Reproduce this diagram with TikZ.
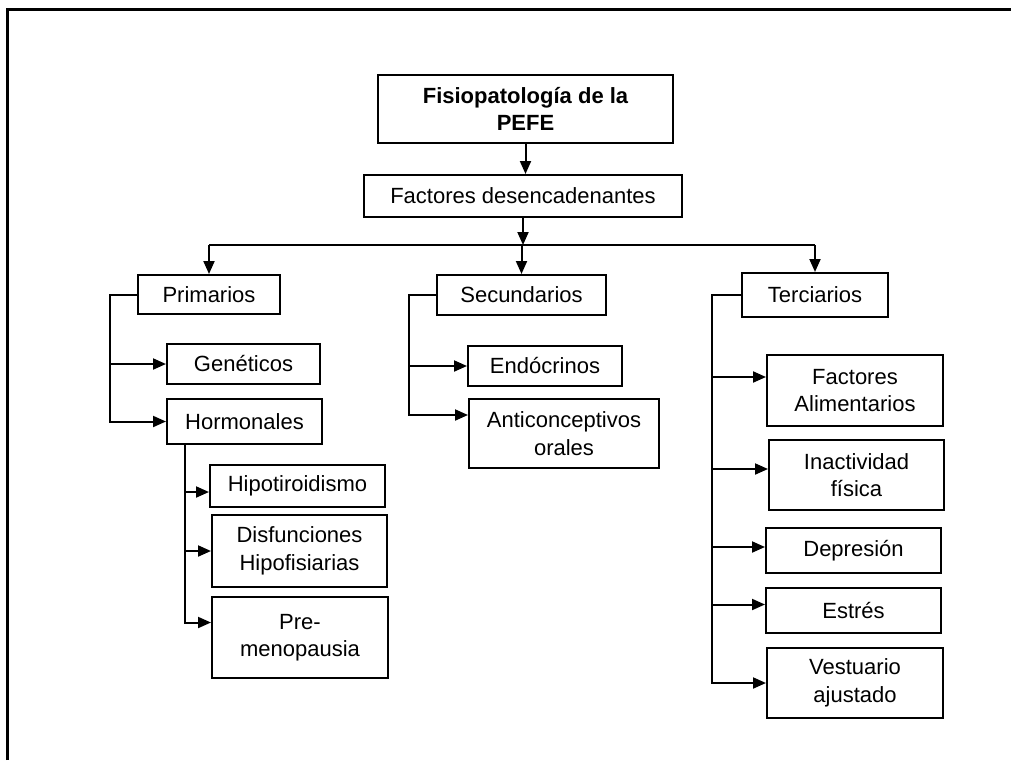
\documentclass[tikz,border=0pt]{standalone}
\usepackage{fontspec}
\setmainfont{Liberation Sans}
\usetikzlibrary{arrows.meta}
\begin{document}
\begin{tikzpicture}[x=0.5pt,y=-0.5pt,
  box/.style={draw, line width=1pt, inner sep=0pt, align=center,
    font=\fontsize{11}{13.75}\selectfont},
  sz/.style n args={2}{minimum width=#1*0.5pt, minimum height=#2*0.5pt},
  ln/.style={line width=1pt},
  arr/.style={line width=1pt, -{Triangle[length=6.5pt,width=5.5pt]}},
  frame/.style={line width=1.5pt}]
\useasboundingbox (0,0) rectangle (1011,760);
\coordinate (f1) at (7,760);
\coordinate (f2) at (7,9);
\coordinate (f3) at (1011,9);
\draw[frame] (f1) -- (f2) -- (f3);

\node[box, sz={295}{68}, font=\fontsize{11}{13.75}\selectfont\bfseries] (title) at (525.5,109) {Fisiopatología de la\\PEFE};
\node[box, sz={318}{42}] (fact) at (523,196) {Factores desencadenantes};

\node[box, sz={142}{39}] (prim) at (209,294.5) {Primarios};
\node[box, sz={153}{40}] (gen) at (243.5,364) {Genéticos};
\node[box, sz={155}{45}] (horm) at (244.5,421.5) {Hormonales};
\node[box, sz={175}{42}] (hipo) at (297.5,486) {Hipotiroidismo};
\node[box, sz={175}{72}] (disf) at (299.5,551) {Disfunciones\\Hipofisiarias};
\node[box, sz={176}{81}] (pre) at (300,637.5) {Pre-\\menopausia};

\node[box, sz={169}{40}] (sec) at (521.5,295) {Secundarios};
\node[box, sz={154}{40}] (endo) at (545,366) {Endócrinos};
\node[box, sz={190}{69}] (anti) at (564,433.5) {Anticonceptivos\\orales};

\node[box, sz={146}{44}] (ter) at (815,295) {Terciarios};
\node[box, sz={176}{71}] (fa) at (855,390.5) {Factores\\Alimentarios};
\node[box, sz={175}{70}] (ina) at (856.5,475) {Inactividad\\física};
\node[box, sz={175}{45}] (dep) at (853.5,550.5) {Depresión};
\node[box, sz={175}{45}] (est) at (853.5,610.5) {Estrés};
\node[box, sz={176}{70}] (ves) at (855,683) {Vestuario\\ajustado};

% top connectors
\draw[arr] (title.south) -- (title.south |- fact.north);
\coordinate (bar) at (523,245);
\coordinate (barL) at (209,245);
\coordinate (barR) at (815,245);
\draw[arr] (fact.south) -- (fact.south |- bar);
\draw[ln] (barL) -- (barR);
\draw[arr] (barL) -- (prim.north);
\draw[arr] (sec.north |- bar) -- (sec.north);
\draw[arr] (barR) -- (ter.north);

% primarios
\coordinate (ps) at (110,294.5);
\draw[arr] (prim.west) -- (ps) |- (horm.west);
\draw[arr] (ps |- gen.west) -- (gen.west);

% hormonales
\coordinate (hs) at (185,444);
\draw[arr] (hs) |- ([yshift=7.5pt]pre.west);
\draw[arr] ([yshift=-3pt]hs |- hipo.west) -- ([yshift=-3pt]hipo.west);
\draw[arr] (hs |- disf.west) -- (disf.west);

% secundarios
\coordinate (ss) at (409,295);
\draw[arr] (sec.west) -- (ss) |- ([yshift=9.25pt]anti.west);
\draw[arr] (ss |- endo.west) -- (endo.west);

% terciarios
\coordinate (ts) at (712,295);
\draw[arr] (ter.west) -- (ts) |- (ves.west);
\draw[arr] ([yshift=6.75pt]ts |- fa.west) -- ([yshift=6.75pt]fa.west);
\draw[arr] ([yshift=3pt]ts |- ina.west) -- ([yshift=3pt]ina.west);
\draw[arr] ([yshift=1.75pt]ts |- dep.west) -- ([yshift=1.75pt]dep.west);
\draw[arr] ([yshift=3pt]ts |- est.west) -- ([yshift=3pt]est.west);
\end{tikzpicture}
\end{document}
